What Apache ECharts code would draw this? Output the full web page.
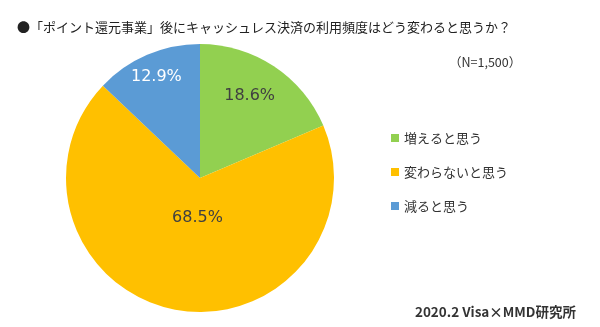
<!DOCTYPE html>
<html><head><meta charset="utf-8">
<script src="https://cdn.jsdelivr.net/npm/echarts@6/dist/echarts.min.js"></script>
<style>html,body{margin:0;padding:0;background:#fff}#c{width:600px;height:327px}</style>
</head><body><div id="c"></div>
<script>
const categories = ['増えると思う', '変わらないと思う', '減ると思う'];
const values = [18.6, 68.5, 12.9];
const colors = ['#92D050', '#FFC000', '#5B9BD5'];
const labelColors = ['#404040', '#404040', '#ffffff'];
const labelOffsets = [[11, -24], [10, -29], [-16, -37]];
const titleText = '●「ポイント還元事業」後にキャッシュレス決済の利用頻度はどう変わると思うか？';
const noteText = '（N=1,500）';
const sourceText = '2020.2 Visa×MMD研究所';

const FONT = '"Noto Sans CJK JP", "Noto Sans", sans-serif';
const chart = echarts.init(document.getElementById('c'), null, {renderer: 'canvas'});
chart.setOption({
  animation: false,
  backgroundColor: '#fff',
  title: [
    {text: titleText, left: 12, top: 16, textStyle: {fontFamily: FONT, fontSize: 13, fontWeight: 'normal', color: '#222'}},
    {text: noteText, left: 444, top: 51, textStyle: {fontFamily: FONT, fontSize: 12.5, fontWeight: 'normal', color: '#333'}},
    {text: sourceText, right: 19, top: 300, textStyle: {fontFamily: FONT, fontSize: 13.5, fontWeight: 'bold', color: '#333'}}
  ],
  legend: {
    orient: 'vertical', left: 386, top: 126,
    itemWidth: 8, itemHeight: 8, itemGap: 20, icon: 'rect',
    textStyle: {fontFamily: FONT, fontSize: 13, color: '#333', lineHeight: 14},
    data: categories
  },
  series: [{
    type: 'pie',
    center: [200, 178], radius: 134,
    startAngle: 90, clockwise: true,
    label: {position: 'inside', fontFamily: '"DejaVu Sans", sans-serif', fontSize: 16,
      formatter: p => p.value.toFixed(1) + '%'},
    labelLine: {show: false},
    emphasis: {disabled: true},
    data: categories.map((n, i) => ({
      name: n, value: values[i],
      itemStyle: {color: colors[i]},
      label: {color: labelColors[i], offset: labelOffsets[i]}
    }))
  }]
});
</script></body></html>
